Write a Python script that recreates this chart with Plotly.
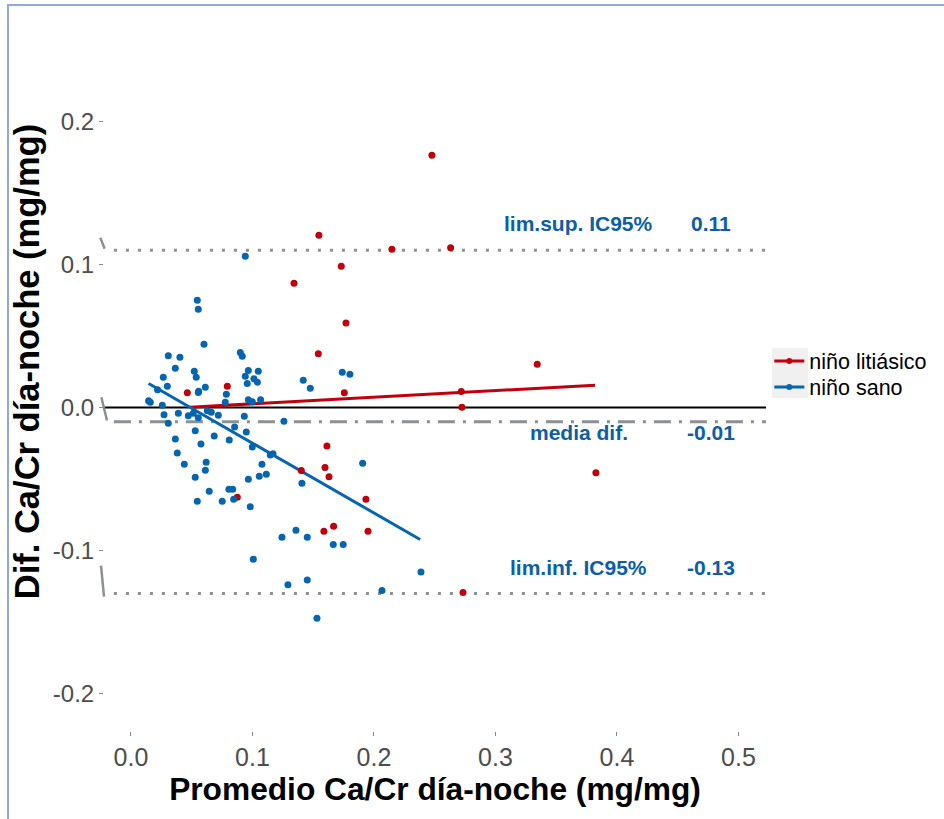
import plotly.graph_objects as go

# ---------------- data ----------------
sano_x = [0.0941, 0.0546, 0.0554, 0.0601, 0.0307, 0.0403, 0.0900, 0.0916, 0.0365, 0.0521,
          0.0266, 0.0537, 0.0299, 0.0612, 0.0557, 0.0554, 0.0219, 0.0145, 0.0159, 0.0258,
          0.0272, 0.0307, 0.0390, 0.0472, 0.0513, 0.0554, 0.0628, 0.0661, 0.0719, 0.0776,
          0.0785, 0.0933, 0.0966, 0.1048, 0.0941, 0.1012, 0.1040, 0.0957, 0.0966, 0.0999,
          0.1067, 0.1259, 0.1418, 0.1476, 0.1739, 0.1802, 0.0529, 0.0576, 0.0365, 0.0381,
          0.0439, 0.0619, 0.0612, 0.0529, 0.0685, 0.0809, 0.0853, 0.0949, 0.0999, 0.1147,
          0.1169, 0.1078, 0.1056, 0.1114, 0.0966, 0.1907, 0.0644, 0.0546, 0.0751, 0.0806,
          0.0837, 0.0845, 0.0982, 0.1243, 0.1358, 0.1451, 0.1665, 0.1747, 0.1007, 0.1292,
          0.1451, 0.1531, 0.2066, 0.2387, 0.1407]
sano_y = [0.1058, 0.0750, 0.0687, 0.0443, 0.0361, 0.0352, 0.0385, 0.0359, 0.0275, 0.0254,
          0.0212, 0.0212, 0.0149, 0.0142, 0.0114, 0.0105, 0.0124, 0.0047, 0.0037, 0.0016,
          -0.0051, -0.0110, -0.0040, -0.0058, -0.0040, -0.0072, -0.0023, -0.0033, -0.0054, 0.0037,
          0.0093, -0.0061, 0.0259, 0.0254, 0.0219, 0.0201, 0.0177, 0.0168, 0.0054, 0.0040,
          0.0054, -0.0096, 0.0191, 0.0135, 0.0247, 0.0233, -0.0163, -0.0256, -0.0221, -0.0319,
          -0.0396, -0.0382, -0.0438, -0.0487, -0.0200, -0.0228, -0.0137, -0.0172, -0.0277, -0.0333,
          -0.0324, -0.0396, -0.0480, -0.0466, -0.0501, -0.0389, -0.0585, -0.0655, -0.0655, -0.0571,
          -0.0571, -0.0641, -0.0694, -0.0907, -0.0858, -0.0907, -0.0958, -0.0958, -0.1061, -0.1240,
          -0.1207, -0.1473, -0.1280, -0.1151, -0.0529]

litiasico_x = [0.1547, 0.2148, 0.1731, 0.1342, 0.1770, 0.1542, 0.0793, 0.0464, 0.1756, 0.1613,
               0.1402, 0.1597, 0.1630, 0.0875, 0.1934, 0.1668, 0.1588, 0.1951, 0.2477, 0.2631,
               0.3344, 0.2719, 0.2724, 0.3827, 0.2733]
litiasico_y = [0.1205, 0.1107, 0.0988, 0.0869, 0.0590, 0.0375, 0.0149, 0.0103, 0.0103, -0.0270,
               -0.0441, -0.0420, -0.0485, -0.0627, -0.0641, -0.0830, -0.0865, -0.0865, 0.1764, 0.1117,
               0.0303, 0.0112, 0.0002, -0.0457, -0.1294]

# fitted trend lines (end points)
fit_sano_x = [0.0145, 0.2380]
fit_sano_y = [0.0168, -0.0923]
fit_lit_x = [0.0486, 0.3820]
fit_lit_y = [0.0002, 0.0156]

# Bland-Altman reference levels
ref_names = ["lim.sup. IC95%", "media dif.", "lim.inf. IC95%"]
ref_values = [0.11, -0.01, -0.13]
ref_value_text = ["0.11", "-0.01", "-0.13"]
ref_label_y = [0.1287, -0.0175, -0.1119]
ref_dash = ["3px,9px", "17px,8px,3px,8px", "3px,9px"]

series_names = ["niño litiásico", "niño sano"]

x_ticks = [0.0, 0.1, 0.2, 0.3, 0.4, 0.5]
x_ticktext = ["0.0", "0.1", "0.2", "0.3", "0.4", "0.5"]
y_ticks = [-0.2, -0.1, 0.0, 0.1, 0.2]
y_ticktext = ["-0.2", "-0.1", "0.0", "0.1", "0.2"]

# ---------------- styling ----------------
RED = "#C0000B"
BLUE = "#0565AF"
LABEL_BLUE = "#0B5EA8"
GREY = "#8C8F93"
FONT = "Liberation Sans, Arial, sans-serif"

fig = go.Figure()

# regression lines
fig.add_trace(go.Scatter(x=fit_lit_x, y=fit_lit_y, mode="lines",
                         line=dict(color=RED, width=3), showlegend=False, hoverinfo="skip"))
fig.add_trace(go.Scatter(x=fit_sano_x, y=fit_sano_y, mode="lines",
                         line=dict(color=BLUE, width=3), showlegend=False, hoverinfo="skip"))

# points
fig.add_trace(go.Scatter(x=litiasico_x, y=litiasico_y, mode="markers",
                         marker=dict(color=RED, size=7), showlegend=False))
fig.add_trace(go.Scatter(x=sano_x, y=sano_y, mode="markers",
                         marker=dict(color=BLUE, size=7), showlegend=False))

# legend-only traces (one legend box each, for exact placement)
for name, col, lg in zip(series_names, [RED, BLUE], ["legend", "legend2"]):
    fig.add_trace(go.Scatter(x=[None], y=[None], mode="lines+markers", name=name,
                             legend=lg,
                             line=dict(color=col, width=3),
                             marker=dict(color=col, size=6)))

shapes = []
# zero line
shapes.append(dict(type="line", xref="paper", yref="y", x0=0, x1=1, y0=0, y1=0,
                   line=dict(color="black", width=2), layer="below"))
# reference lines
for v, d in zip(ref_values, ref_dash):
    shapes.append(dict(type="line", xref="paper", yref="y", x0=0.015, x1=1, y0=v, y1=v,
                       line=dict(color=GREY, width=3, dash=d), layer="below"))
# small slanted marks at the y axis
marks = [(-0.0056, 0.1187, 0.0010, 0.1110),
         (-0.0040, 0.0072, 0.0045, -0.0091),
         (-0.0045, -0.1105, 0.0000, -0.1322)]
for x0, y0, x1, y1 in marks:
    shapes.append(dict(type="line", xref="paper", yref="y", x0=x0, y0=y0, x1=x1, y1=y1,
                       line=dict(color=GREY, width=2.5)))
# page border
shapes.append(dict(type="rect", xref="paper", yref="paper", x0=-0.145, x1=1.6, y0=-0.5, y1=1.122,
                   line=dict(color="#8FA9DC", width=2), fillcolor="rgba(0,0,0,0)"))
# legend key background
shapes.append(dict(type="rect", xref="paper", yref="paper", x0=1.009, x1=1.0634, y0=0.5147, y1=0.592,
                   line=dict(width=0), fillcolor="#F0F0F0", layer="below"))

annotations = []
for name, vt, ly in zip(ref_names, ref_value_text, ref_label_y):
    annotations.append(dict(x=0.3687, y=ly, xref="x", yref="y", text=name, showarrow=False,
                            xanchor="center", yanchor="middle",
                            font=dict(family=FONT, size=21, color=LABEL_BLUE, weight="bold")))
    annotations.append(dict(x=0.4774, y=ly, xref="x", yref="y", text=vt, showarrow=False,
                            xanchor="center", yanchor="middle",
                            font=dict(family=FONT, size=21, color=LABEL_BLUE, weight="bold")))
# y axis title
annotations.append(dict(x=-0.1163, y=0.570, xref="paper", yref="paper",
                        text="<b>Dif. Ca/Cr día-noche (mg/mg)</b>", textangle=-90,
                        showarrow=False, xanchor="center", yanchor="middle",
                        font=dict(family=FONT, size=34.5, color="black")))

legend_common = dict(xanchor="left", yanchor="middle",
                     font=dict(family=FONT, size=21.5, color="black"),
                     bgcolor="rgba(0,0,0,0)")

fig.update_layout(
    width=944, height=819,
    margin=dict(l=104, r=178, t=84, b=88, pad=0, autoexpand=False),
    paper_bgcolor="white", plot_bgcolor="white",
    font=dict(family=FONT),
    shapes=shapes,
    annotations=annotations,
    showlegend=True,
    legend=dict(x=1.005, y=0.5718, **legend_common),
    legend2=dict(x=1.005, y=0.5317, **legend_common),
    xaxis=dict(range=[-0.0222, 0.5227], tickvals=x_ticks, ticktext=x_ticktext,
               showgrid=False, zeroline=False, showline=False, automargin=False,
               ticks="outside", ticklen=4, tickcolor="#888888", tickwidth=1,
               tickfont=dict(family=FONT, size=25, color="#4D4D4D"),
               title=dict(text="<b>Promedio Ca/Cr día-noche (mg/mg)</b>", standoff=6,
                          font=dict(family=FONT, size=31.7, color="black"))),
    yaxis=dict(range=[-0.2262, 0.2262], tickvals=y_ticks, ticktext=y_ticktext,
               showgrid=False, zeroline=False, showline=False, automargin=False,
               ticks="outside", ticklen=4, tickcolor="#888888", tickwidth=1,
               tickfont=dict(family=FONT, size=24, color="#4D4D4D")),
)

fig.write_html("out.html")
